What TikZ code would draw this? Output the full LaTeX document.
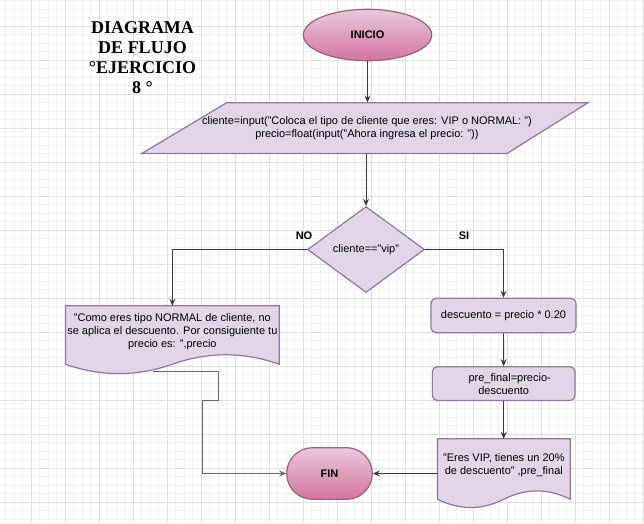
\documentclass[tikz,border=0pt]{standalone}
\usepackage{fontspec}
\setmainfont{Liberation Sans}
\newfontfamily\titlefont{Liberation Serif}
\usetikzlibrary{shapes.geometric,arrows.meta,calc}
\definecolor{pfill}{HTML}{E1D5E7}
\definecolor{pline}{HTML}{9673A6}
\definecolor{ktop}{HTML}{E8CADB}
\definecolor{kbot}{HTML}{D5739D}
\definecolor{kline}{HTML}{996185}
\definecolor{gminor}{HTML}{F2F2F2}
\definecolor{gmajor}{HTML}{DEDEDE}
\definecolor{conn}{HTML}{3A3A3A}
\newcommand\docpath[2]{%
  \draw[docst] let \p1=(#1.north west), \p2=(#1.south east), \n1={\x2-\x1} in
    (\p1) -- (\x2,\y1) -- (\p2)
    .. controls ({\x2-\n1/6},{\y2+#2*4pt/3}) and ({\x2-\n1/3},{\y2+#2*4pt/3}) .. ({\x2-\n1/2},\y2)
    .. controls ({\x1+\n1/3},{\y2-#2*4pt/3}) and ({\x1+\n1/6},{\y2-#2*4pt/3}) .. (\x1,\y2) -- cycle;}
\tikzset{
  txt/.style={font=\fontsize{11}{13}\selectfont, align=center, inner sep=0pt},
  bold/.style={font=\fontsize{11}{13}\selectfont\bfseries, inner sep=0pt},
  pinkst/.style={draw=kline, line width=1.2pt, top color=ktop, bottom color=kbot, inner sep=0pt},
  boxst/.style={draw=pline, line width=1.2pt, fill=pfill, rounded corners=5pt, inner sep=0pt, align=center, font=\fontsize{11}{13}\selectfont},
  docst/.style={draw=pline, line width=1.2pt, fill=pfill},
  hold/.style={draw=none, inner sep=0pt},
  arr/.style={draw=conn, line width=0.9pt, -{Stealth[length=7pt,width=6pt,inset=2.5pt]}},
}
\begin{document}
\begin{tikzpicture}[x=1pt,y=-1pt]
\useasboundingbox (0,0) rectangle (644,523);
\fill[white] (0,0) rectangle (644,523);
% grid
\foreach \i in {-3,...,72} \draw[gminor, line width=0.8pt] ({31.3+8.5*\i},0) -- ({31.3+8.5*\i},523);
\foreach \j in {-3,...,58} \draw[gminor, line width=0.8pt] (0,{26+8.5*\j}) -- (644,{26+8.5*\j});
\foreach \i in {0,...,18} \draw[gmajor, line width=0.8pt] ({31.3+34*\i},0) -- ({31.3+34*\i},523);
\foreach \j in {0,...,14} \draw[gmajor, line width=0.8pt] (0,{26+34*\j}) -- (644,{26+34*\j});

% title
\node[align=center, inner sep=0pt, font=\titlefont\fontsize{18}{20}\selectfont\bfseries] (title) at (142.5,57.5)
  {DIAGRAMA\\DE FLUJO\\°EJERCICIO\\8 °};

% start
\node[ellipse, pinkst, minimum width=128.4pt, minimum height=51.4pt, font=\fontsize{11}{13}\selectfont\bfseries] (inicio) at (367.5,35) {INICIO};

% input parallelogram
\draw[docst] (226.7,102.7) -- (588,102.7) -- (507,153.5) -- (141.7,153.5) -- cycle;
\node[txt, minimum height=50.8pt] (inp) at (366.9,128.1)
  {cliente=input("Coloca el tipo de cliente que eres: VIP o NORMAL: ")\\precio=float(input("Ahora ingresa el precio: "))};

% decision
\node[diamond, draw=pline, line width=1.2pt, fill=pfill, inner sep=0pt, aspect=1.36,
  minimum width=117pt, minimum height=86pt, font=\fontsize{11}{13}\selectfont] (dec) at (366,249.5) {cliente=="vip"};
\node[bold] (no) at (304,235.5) {NO};
\node[bold] (si) at (464,235.5) {SI};

% NO document
\node[hold, minimum width=213.3pt, minimum height=58pt] (doc1) at (172.35,335) {};
\docpath{doc1}{9.4}
\node[txt] (doc1t) at (172.35,331.5) {"Como eres tipo NORMAL de cliente, no\\se aplica el descuento. Por consiguiente tu\\precio es: ",precio};

% SI branch
\node[boxst, minimum width=145pt, minimum height=34.4pt] (desc) at (503.5,315.5) {descuento = precio * 0.20};
\node[boxst, minimum width=142.7pt, minimum height=33.8pt] (pre) at (503.7,383.6) {\hspace*{12pt}pre\_final=precio-\\descuento};
\node[hold, minimum width=132.3pt, minimum height=60pt] (doc2) at (503.85,469) {};
\docpath{doc2}{8.3}
\node[txt] (doc2t) at (503.85,465.2) {"Eres VIP, tienes un 20\%\\de descuento" ,pre\_final};

% end
\node[rectangle, rounded corners=25.8pt, pinkst, minimum width=85.6pt, minimum height=51.6pt, font=\fontsize{11}{13}\selectfont\bfseries] (fin) at (329.5,473.5) {FIN};

% connectors
\draw[arr] (inicio.south) -- (inicio.south |- inp.north);
\draw[arr] (dec.north |- inp.south) -- (dec.north);
\draw[arr] (dec.west) -| (doc1.north);
\draw[arr] (dec.east) -| (desc.north);
\draw[arr] (desc.south) -- (pre.north);
\draw[arr] (pre.south) -- (pre.south |- doc2.north);
\draw[arr] (doc2.west |- fin.east) -- (fin.east);
\coordinate (d1out) at (152.7,371.8);
\draw[arr, draw=black!60, line width=1.1pt] (d1out) -- (218.3,371.8) -- (218.3,400.7) -- (202.5,400.7) |- (fin.west);
\end{tikzpicture}
\end{document}
